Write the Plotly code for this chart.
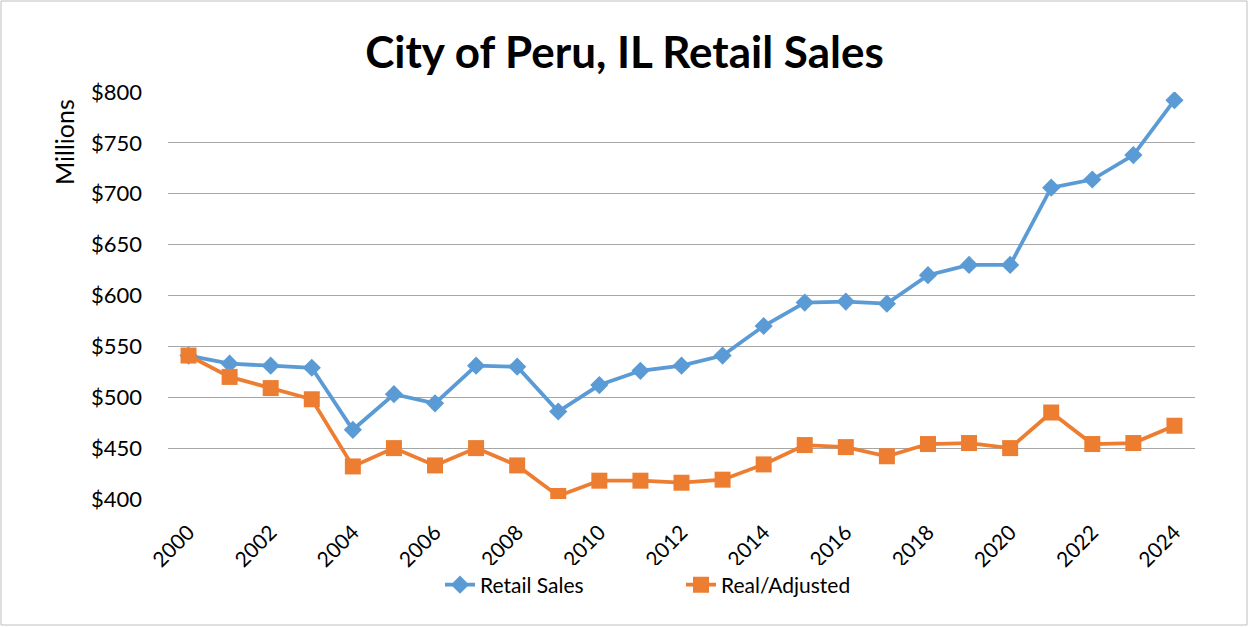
import plotly.graph_objects as go

years = list(range(2000, 2025))
retail_sales = [541, 533, 531, 529, 468, 503, 494, 531, 530, 486, 512, 526, 531, 541, 570,
                593, 594, 592, 620, 630, 630, 706, 714, 738, 792]
real_adjusted = [541, 520, 509, 498, 432, 450, 433, 450, 433, 403, 418, 418, 416, 419, 434,
                 453, 451, 442, 454, 455, 450, 485, 454, 455, 472]
x_ticks = list(range(2000, 2025, 2))
y_ticks = [400, 450, 500, 550, 600, 650, 700, 750, 800]

W, H = 1249, 627
L, R, T, B = 168, 54, 92, 128
pw, ph = W - L - R, H - T - B

fig = go.Figure()
fig.add_trace(go.Scatter(
    x=years, y=retail_sales, name="Retail Sales", mode="lines+markers",
    line=dict(color="#5B9BD5", width=3.8),
    marker=dict(symbol="diamond", size=14, color="#5B9BD5"),
))
fig.add_trace(go.Scatter(
    x=years, y=real_adjusted, name="Real/Adjusted", mode="lines+markers",
    line=dict(color="#ED7D31", width=3.8),
    marker=dict(symbol="square", size=16, color="#ED7D31"),
))

font_family = "Lato, Open Sans, sans-serif"
fig.update_layout(
    width=W, height=H,
    margin=dict(l=L, r=R, t=T, b=B),
    paper_bgcolor="white", plot_bgcolor="white",
    font=dict(family=font_family, color="black"),
    title=dict(text="<b>City of Peru, IL Retail Sales</b>", x=0.5, xanchor="center",
               y=1 - 53 / H, yanchor="middle", font=dict(size=44, family=font_family)),
    xaxis=dict(range=[1999.5, 2024.5], tickvals=x_ticks, ticktext=[str(v) for v in x_ticks],
               tickangle=-45, tickfont=dict(size=21), showgrid=False, zeroline=False,
               showline=False, ticks="", ticklabelstandoff=16),
    yaxis=dict(range=[400, 800], tickvals=y_ticks, ticktext=[f"${v}" for v in y_ticks],
               tickfont=dict(size=22), gridcolor="#A6A6A6", gridwidth=1, zeroline=False,
               showline=False, ticks="", ticklabelstandoff=25),
    legend=dict(orientation="h", x=(440 - L) / pw, xanchor="left", y=-(585 - (T + ph)) / ph,
                yanchor="middle", font=dict(size=21), entrywidth=196,
                entrywidthmode="pixels"),
    showlegend=True,
)
fig.add_annotation(text="Millions", xref="paper", yref="paper",
                   x=-(L - 64) / pw, y=1 - (142 - T) / ph, showarrow=False, textangle=-90,
                   font=dict(size=25), xanchor="center", yanchor="middle")
fig.add_shape(type="rect", xref="paper", yref="paper",
              x0=-(L - 1) / pw, x1=1 + (R - 2) / pw, y0=-(B - 2) / ph, y1=1 + (T - 1) / ph,
              line=dict(color="#BFBFBF", width=1), fillcolor="rgba(0,0,0,0)", layer="below")

fig.write_html("out.html", config={"displayModeBar": False},
               post_script="document.body.style.margin='0';")
